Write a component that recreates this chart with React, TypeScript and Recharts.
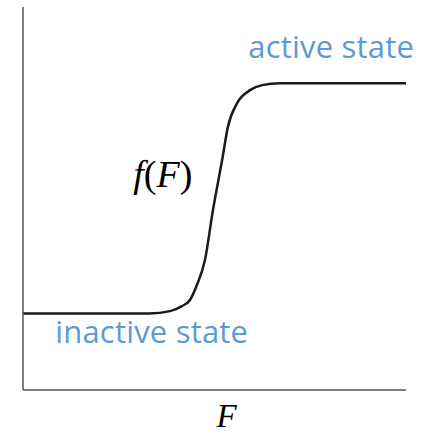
import React from "react";
import { LineChart, Line, XAxis, YAxis, ReferenceDot } from "recharts";

// sigmoid response (F and f(F) both on 0..1)
const forceValues = [0, 0.33, 0.384, 0.415, 0.436, 0.454, 0.475, 0.496, 0.52, 0.535, 0.559, 0.593, 0.624, 0.671, 1];
const responseValues = [0.2, 0.2, 0.206, 0.219, 0.235, 0.274, 0.339, 0.47, 0.601, 0.687, 0.749, 0.783, 0.796, 0.801, 0.801];

const stateLabels = [
  { text: "active state", F: 0.588, f: 0.867 },
  { text: "inactive state", F: 0.084, f: 0.123 },
];

const data = forceValues.map((F, i) => ({ F, f: responseValues[i] }));

const BLUE = "#5B9BD5";
const SERIF = "'Liberation Serif', 'DejaVu Serif', serif";

const StateText = (text: string) => (p: any) => (
  <text x={p.cx} y={p.cy} fill={BLUE} fontSize={31} fontFamily="'Open Sans', sans-serif" letterSpacing={0.2}>
    {text}
  </text>
);

const FuncText = (p: any) => (
  <text x={p.cx} y={p.cy} fill="#000" fontSize={38} fontFamily={SERIF}>
    <tspan fontStyle="italic">f</tspan>(<tspan fontStyle="italic">F</tspan>)
  </text>
);

const AxisText = (p: any) => (
  <text x={p.cx} y={p.cy} fill="#000" fontSize={33} fontFamily={SERIF} fontStyle="italic">
    F
  </text>
);

export default function App() {
  return (
    <div style={{ position: "absolute", left: 0, top: 0, background: "#fff" }}>
      <LineChart width={425} height={437} data={data} margin={{ top: 7, right: 19, left: 22, bottom: 46 }}>
        <XAxis
          type="number"
          dataKey="F"
          domain={[0, 1]}
          tick={false}
          tickLine={false}
          height={1}
          axisLine={{ stroke: "#555", strokeWidth: 1.5 }}
        />
        <YAxis
          type="number"
          domain={[0, 1]}
          tick={false}
          tickLine={false}
          width={1}
          axisLine={{ stroke: "#555", strokeWidth: 1.5 }}
        />
        <Line
          type="monotone"
          dataKey="f"
          stroke="#1a1a1a"
          strokeWidth={2.5}
          dot={false}
          isAnimationActive={false}
        />
        {stateLabels.map((s) => (
          <ReferenceDot key={s.text} x={s.F} y={s.f} r={0} ifOverflow="visible" shape={StateText(s.text)} />
        ))}
        <ReferenceDot x={0.288} y={0.53} r={0} ifOverflow="visible" shape={FuncText} />
        <ReferenceDot x={0.505} y={-0.097} r={0} ifOverflow="visible" shape={AxisText} />
      </LineChart>
    </div>
  );
}
